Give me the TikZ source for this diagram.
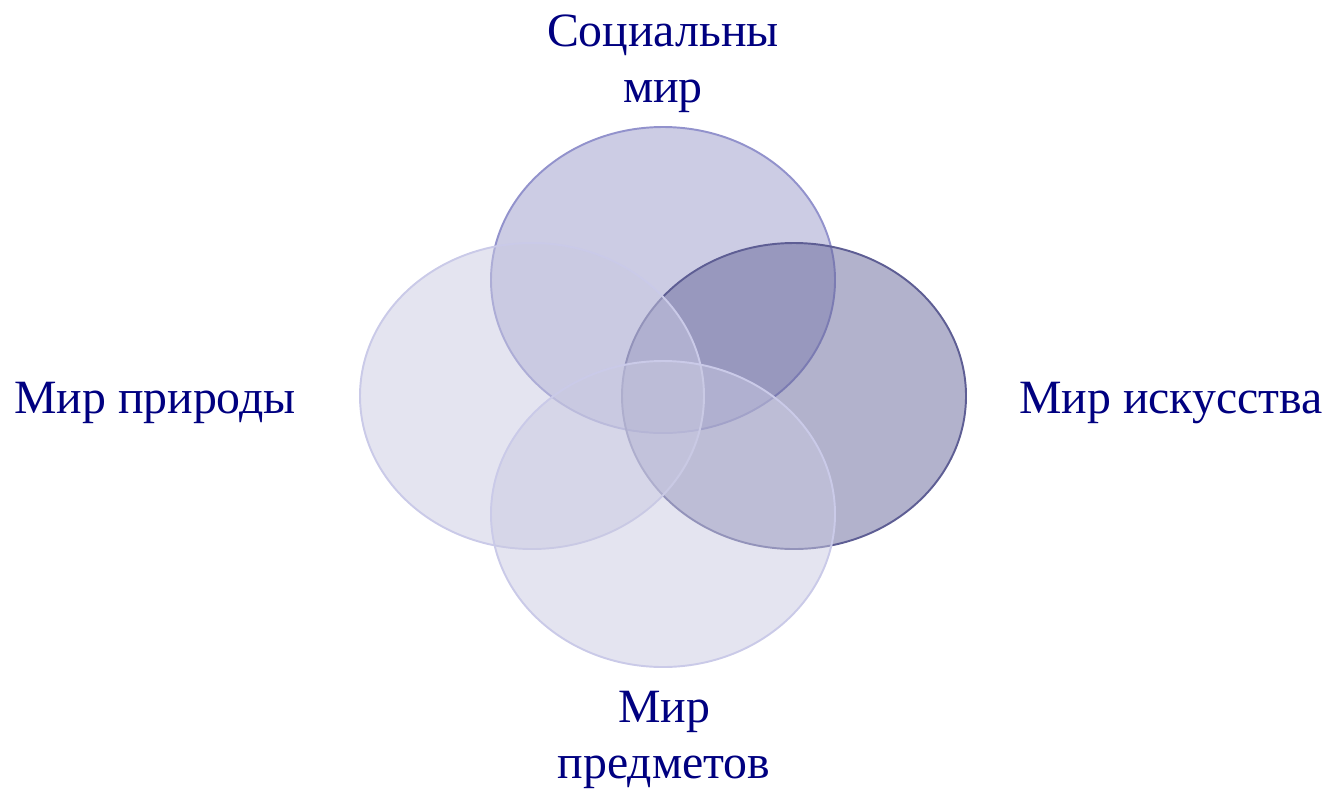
\documentclass[tikz,border=0pt]{standalone}
\usepackage{fontspec}
\setmainfont{Liberation Serif}
\usepackage{tikz}

\definecolor{kreisT}{RGB}{153,153,201}
\definecolor{kreisR}{RGB}{101,101,153}
\definecolor{kreisL}{RGB}{201,201,225}
\definecolor{randT}{RGB}{146,146,204}
\definecolor{randR}{RGB}{94,94,148}
\definecolor{randL}{RGB}{202,202,232}

\begin{document}
\begin{tikzpicture}[%show background rectangle,
        x=0.02cm, y=-0.02cm,
        font=\fontsize{27.2}{31.6}\selectfont,
        welt/.style={line width=1.1pt, fill opacity=0.5},
        beschriftung/.style={text=navy, align=center, inner sep=0pt, anchor=base}
        ]
            \definecolor{navy}{RGB}{0,0,128}
            \useasboundingbox (0,0) rectangle (1331,792);

            % Ellipsen
            \draw [welt, fill=kreisT, draw=randT] (663,280) ellipse (172 and 153);
            \draw [welt, fill=kreisR, draw=randR] (794,396) ellipse (172 and 153);
            \draw [welt, fill=kreisL, draw=randL] (532,396) ellipse (172 and 153);
            \draw [welt, fill=kreisL, draw=randL] (663,514) ellipse (172 and 153);

            % Beschriftung (base = letzte Zeile)
            \node [beschriftung] (sozial)  at (663,102) {Социальны\\мир};
            \node [beschriftung] (natur)   at (155,413) {Мир природы};
            \node [beschriftung] (kunst)   at (1171,413) {Мир искусства};
            \node [beschriftung] (dinge)   at (664,778) {Мир\\предметов};
        \end{tikzpicture}
\end{document}
